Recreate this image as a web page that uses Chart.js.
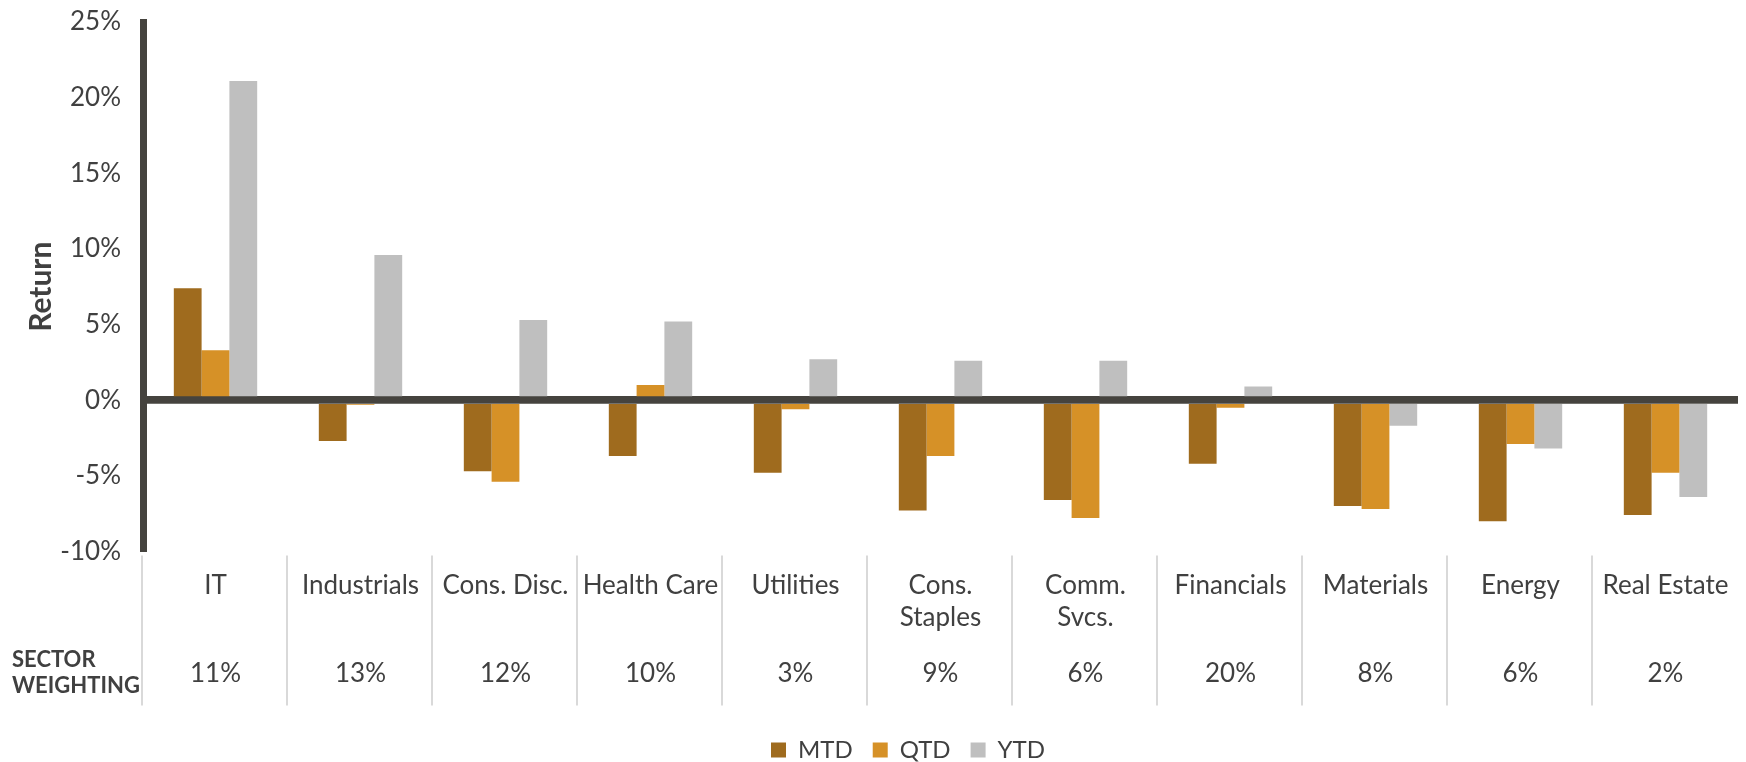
<!DOCTYPE html>
<html>
<head>
<meta charset="utf-8">
<script src="https://cdn.jsdelivr.net/npm/chart.js@4/dist/chart.umd.min.js"></script>
<style>
  html, body { margin: 0; padding: 0; background: #ffffff; }
  #wrap { width: 1746px; height: 762px; position: relative; }
</style>
</head>
<body>
<div id="wrap"><canvas id="c" width="1746" height="762"></canvas></div>
<script>
// ---- data ----
const categories = ['IT', 'Industrials', 'Cons. Disc.', 'Health Care', 'Utilities',
  ['Cons.', 'Staples'], ['Comm.', 'Svcs.'], 'Financials', 'Materials', 'Energy', 'Real Estate'];
const mtd = [7.4, -2.7, -4.7, -3.7, -4.8, -7.3, -6.6, -4.2, -7.0, -8.0, -7.6];
const qtd = [3.3, -0.3, -5.4, 1.0, -0.6, -3.7, -7.8, -0.5, -7.2, -2.9, -4.8];
const ytd = [21.1, 9.6, 5.3, 5.2, 2.7, 2.6, 2.6, 0.9, -1.7, -3.2, -6.4];
const weights = ['11%', '13%', '12%', '10%', '3%', '9%', '6%', '20%', '8%', '6%', '2%'];
const weightTitle = ['SECTOR', 'WEIGHTING'];
const yTicks = { min: -10, max: 25, step: 5 };

const FONT = 'Lato';
const TEXT = '#404040';
const AXIS = '#45433E';

const tablePlugin = {
  id: 'tablePlugin',
  afterLayout(chart) {
    const lg = chart.legend;
    if (lg) { lg.left += 39; lg.right += 39; }
  },
  afterDraw(chart) {
    const ctx = chart.ctx;
    const xs = chart.scales.x;
    const ca = chart.chartArea;
    const step = xs.getPixelForValue(1) - xs.getPixelForValue(0);
    ctx.save();
    // separators
    ctx.strokeStyle = '#D9D9D9';
    ctx.lineWidth = 2;
    for (let i = 0; i < categories.length; i++) {
      const bx = xs.getPixelForValue(i) - step / 2 - 1;
      ctx.beginPath();
      ctx.moveTo(bx, ca.bottom + 4);
      ctx.lineTo(bx, ca.bottom + 154);
      ctx.stroke();
    }
    // weights
    ctx.fillStyle = TEXT;
    ctx.textAlign = 'center';
    ctx.textBaseline = 'middle';
    ctx.font = '26px ' + FONT;
    weights.forEach((w, i) => {
      ctx.fillText(w, xs.getPixelForValue(i), ca.bottom + 122);
    });
    // row title
    ctx.textAlign = 'left';
    ctx.font = 'bold 22px ' + FONT;
    ctx.fillText(weightTitle[0], 12, ca.bottom + 109);
    ctx.fillText(weightTitle[1], 12, ca.bottom + 135);
    ctx.restore();
  }
};

new Chart(document.getElementById('c'), {
  type: 'bar',
  data: {
    labels: categories,
    datasets: [
      { label: 'MTD', data: mtd, backgroundColor: '#9F6B1E' },
      { label: 'QTD', data: qtd, backgroundColor: '#D69127' },
      { label: 'YTD', data: ytd, backgroundColor: '#BFBFBF' }
    ]
  },
  options: {
    responsive: false,
    animation: false,
    devicePixelRatio: 1,
    datasets: { bar: { categoryPercentage: 0.575, barPercentage: 1.0, borderWidth: 0 } },
    layout: { padding: { top: 22, right: 8, bottom: -10, left: 0 } },
    plugins: {
      tooltip: { enabled: false },
      legend: {
        position: 'bottom',
        labels: {
          boxWidth: 15, boxHeight: 15, padding: 20, color: TEXT,
          font: { family: FONT, size: 24 }
        }
      }
    },
    scales: {
      x: {
        grid: { display: false, drawTicks: false },
        border: { display: false },
        ticks: {
          autoSkip: false, maxRotation: 0, minRotation: 0, padding: 18, color: TEXT,
          font: { family: FONT, size: 26, lineHeight: 1.23 }
        },
        afterFit(s) { s.height = 166.6; s.paddingLeft = 0; s.paddingRight = 0; }
      },
      y: {
        z: 1,
        min: yTicks.min, max: yTicks.max,
        grid: {
          drawTicks: false,
          color: c => (c.tick && c.tick.value === 0) ? AXIS : 'rgba(0,0,0,0)',
          lineWidth: c => (c.tick && c.tick.value === 0) ? 7.7 : 1
        },
        border: { display: true, color: AXIS, width: 7 },
        ticks: {
          stepSize: yTicks.step, padding: 22, color: TEXT,
          font: { family: FONT, size: 26 },
          callback: v => v + '%'
        },
        title: {
          display: true, text: 'Return', color: TEXT,
          font: { family: FONT, size: 30, weight: 'bold' },
          padding: { top: 23, bottom: 0 }
        },
        afterFit(s) { s.width = 143; s.paddingTop = 0; s.paddingBottom = 0; }
      }
    }
  },
  plugins: [tablePlugin]
});
</script>
</body>
</html>
